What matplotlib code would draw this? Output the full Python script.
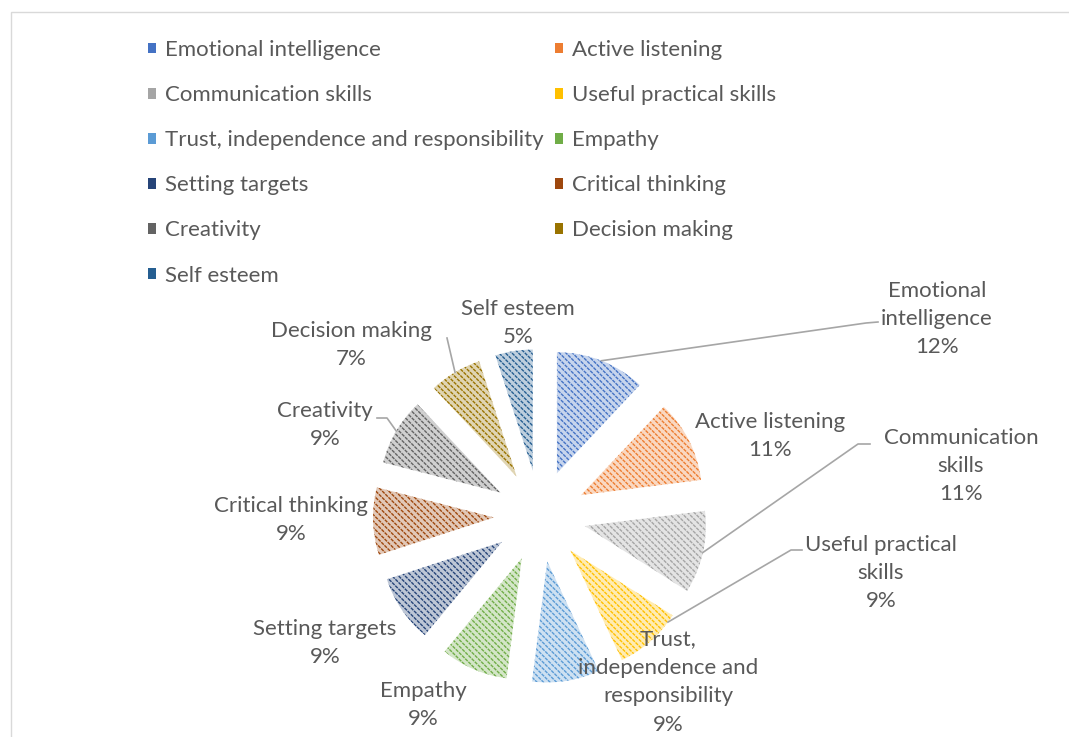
import numpy as np
import matplotlib
matplotlib.use("Agg")
import matplotlib.pyplot as plt
from matplotlib.collections import LineCollection
from matplotlib.patches import Patch, Rectangle
from matplotlib.colors import to_rgb

skills = ["Emotional intelligence", "Active listening", "Communication skills",
          "Useful practical skills", "Trust, independence and responsibility",
          "Empathy", "Setting targets", "Critical thinking", "Creativity",
          "Decision making", "Self esteem"]
shares = [12, 11, 11, 9, 9, 9, 9, 9, 9, 7, 5]
wrapped = ["Emotional\nintelligence", "Active listening", "Communication\nskills",
           "Useful practical\nskills", "Trust,\nindependence and\nresponsibility",
           "Empathy", "Setting targets", "Critical thinking", "Creativity",
           "Decision making", "Self esteem"]
colors = ["#4472C4", "#ED7D31", "#A5A5A5", "#FFC000", "#5B9BD5", "#70AD47",
          "#264478", "#9E480E", "#636363", "#997300", "#255E91"]

W, H = 1069, 737
TXT = "#595959"
LINE = "#A6A6A6"
plt.rcParams["font.family"] = ["Lato", "DejaVu Sans"]
FS = 16


def Y(y):
    # picture rows -> data y
    return H - y


def tint(c, k=0.3):
    r, g, b = to_rgb(c)
    return (1 - k + k * r, 1 - k + k * g, 1 - k + k * b)


fig = plt.figure(figsize=(W / 100, H / 100), dpi=100)
ax = fig.add_axes([0, 0, 1, 1])

# explode is an absolute offset in data units (pixels here)
wedges, _ = ax.pie(shares, explode=[46] * len(shares), startangle=90,
                   counterclock=False, radius=121, center=(540, Y(516)),
                   colors=[tint(c) for c in colors],
                   wedgeprops=dict(linewidth=0))

# downward-diagonal stripes, clipped to each slice
d = np.array([1.0, -1.0]) / np.sqrt(2)
n = np.array([1.0, 1.0]) / np.sqrt(2)
for w, c in zip(wedges, colors):
    cen = np.array(w.center)
    segs = []
    for t in np.arange(-180, 180, 4.6):
        p = cen + n * t
        segs.append([p - d * 200, p + d * 200])
    lc = LineCollection(segs, colors=c, linewidths=1.0,
                        linestyles=[(0, (2.5, 0.7))], zorder=3)
    ax.add_collection(lc)
    lc.set_clip_path(w)

# data labels
label_pos = [(937, 319), (770, 436), (961, 466), (881, 573), (668, 682),
             (423, 705), (325, 643), (291, 520), (325, 425), (351, 345),
             (518, 323)]
for txt, v, (x, y) in zip(wrapped, shares, label_pos):
    ax.text(x, Y(y), f"{txt}\n{v}%", ha="center", va="center",
            fontsize=FS, color=TXT, linespacing=1.53, zorder=5)


def arc_point(w, frac=0.5):
    th = np.radians(w.theta2 - frac * (w.theta2 - w.theta1))
    return (w.center[0] + w.r * np.cos(th), w.center[1] + w.r * np.sin(th))


leaders = {0: ([(866, 323), (878, 322)], 0.5),
           2: ([(858, 444), (870, 444)], 0.5),
           3: ([(791, 550), (802, 550)], 0.12),
           8: ([(387, 418), (377, 418)], 0.5),
           9: ([(447, 338)], 0.5)}
for i, (pts, f) in leaders.items():
    x0, y0 = arc_point(wedges[i], f)
    xs = [x0] + [p[0] for p in pts]
    ys = [y0] + [Y(p[1]) for p in pts]
    ax.plot(xs, ys, color=LINE, lw=1.2, zorder=4)

# chart area border
ax.add_patch(Rectangle((10.5, -10), W, Y(11.5) + 10, fill=False,
                       edgecolor="#D9D9D9", lw=1))

ax.set_xlim(0, W)
ax.set_ylim(0, H)
ax.set_aspect("equal")
ax.axis("off")

handles = [Patch(facecolor=c, edgecolor="none", label=s)
           for s, c in zip(skills, colors)]
order = list(range(0, len(skills), 2)) + list(range(1, len(skills), 2))
fig.legend([handles[i] for i in order], [skills[i] for i in order],
           ncol=2, loc="upper left", bbox_to_anchor=(148 / W, 1 - 40 / H),
           frameon=False, fontsize=FS, labelcolor=TXT, borderpad=0,
           borderaxespad=0, handlelength=0.37, handleheight=0.37,
           handletextpad=0.4, columnspacing=0.5, labelspacing=1.13)

fig.savefig("out.png", dpi=100)
